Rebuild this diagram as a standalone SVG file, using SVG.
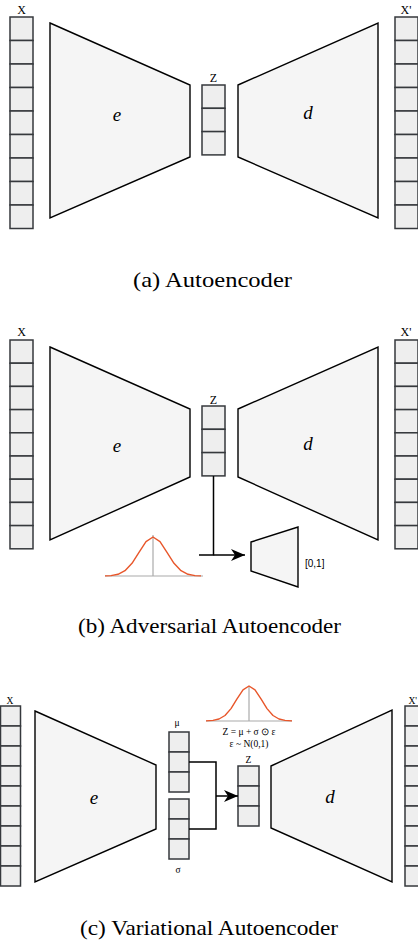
<svg xmlns="http://www.w3.org/2000/svg" width="418" height="950" viewBox="0 0 418 950">
<defs>
<style>
.cell{fill:#eeeeee;stroke:#36393d;stroke-width:1.5}
.trap{fill:#f5f5f5;stroke:#000;stroke-width:1.4;stroke-linejoin:miter}
.lbl{font-family:"Liberation Serif",serif;font-size:12px;fill:#000;text-anchor:middle}
.sm{font-family:"Liberation Serif",serif;font-size:9.5px;fill:#000;text-anchor:middle}
.it{font-family:"Liberation Serif",serif;font-style:italic;font-size:19px;fill:#000;text-anchor:middle}
.cap{font-family:"Liberation Serif",serif;font-size:21px;fill:#000}
.con{fill:none;stroke:#000;stroke-width:1.5}
.gauss{fill:none;stroke:#e8562a;stroke-width:1.4;stroke-linejoin:round}
.axis{fill:none;stroke:#aaaaaa;stroke-width:1.2}
.sans{font-family:"Liberation Sans",sans-serif;font-size:10px;fill:#000}
</style>
<marker id="arr" markerUnits="userSpaceOnUse" markerWidth="16" markerHeight="14" refX="14" refY="6" orient="auto">
<path d="M0,0 L14,6 L0,12 L4,6 Z" fill="#000"/>
</marker>
</defs>

<!-- (a) Autoencoder -->
<g id="a-x">
<text class="lbl" x="21.5" y="14">X</text>
<rect class="cell" x="10" y="17" width="23" height="23.5"/>
<rect class="cell" x="10" y="40.5" width="23" height="23.5"/>
<rect class="cell" x="10" y="64" width="23" height="23.5"/>
<rect class="cell" x="10" y="87.5" width="23" height="23.5"/>
<rect class="cell" x="10" y="111" width="23" height="23.5"/>
<rect class="cell" x="10" y="134.5" width="23" height="23.5"/>
<rect class="cell" x="10" y="158" width="23" height="23.5"/>
<rect class="cell" x="10" y="181.5" width="23" height="23.5"/>
<rect class="cell" x="10" y="205" width="23" height="23.5"/>
</g>
<g id="a-e">
<polygon class="trap" points="50,23 190,85 190,157 50,218"/>
<text class="it" x="117" y="121">e</text>
</g>
<g id="a-z">
<text class="lbl" x="213.5" y="82">Z</text>
<rect class="cell" x="202" y="85" width="23" height="23.3"/>
<rect class="cell" x="202" y="108.3" width="23" height="23.3"/>
<rect class="cell" x="202" y="131.6" width="23" height="23.3"/>
</g>
<g id="a-d">
<polygon class="trap" points="238,85 378,23 378,218 238,157"/>
<text class="it" x="308" y="119">d</text>
</g>
<g id="a-xp">
<text class="lbl" x="406" y="14">X'</text>
<rect class="cell" x="395" y="17" width="23" height="23.5"/>
<rect class="cell" x="395" y="40.5" width="23" height="23.5"/>
<rect class="cell" x="395" y="64" width="23" height="23.5"/>
<rect class="cell" x="395" y="87.5" width="23" height="23.5"/>
<rect class="cell" x="395" y="111" width="23" height="23.5"/>
<rect class="cell" x="395" y="134.5" width="23" height="23.5"/>
<rect class="cell" x="395" y="158" width="23" height="23.5"/>
<rect class="cell" x="395" y="181.5" width="23" height="23.5"/>
<rect class="cell" x="395" y="205" width="23" height="23.5"/>
</g>
<text class="cap" x="133" y="287" textLength="159" lengthAdjust="spacingAndGlyphs">(a)  Autoencoder</text>

<!-- (b) Adversarial Autoencoder -->
<g id="b-x">
<text class="lbl" x="21.5" y="336">X</text>
<rect class="cell" x="10" y="340" width="23" height="23.2"/>
<rect class="cell" x="10" y="363.2" width="23" height="23.2"/>
<rect class="cell" x="10" y="386.4" width="23" height="23.2"/>
<rect class="cell" x="10" y="409.6" width="23" height="23.2"/>
<rect class="cell" x="10" y="432.8" width="23" height="23.2"/>
<rect class="cell" x="10" y="456" width="23" height="23.2"/>
<rect class="cell" x="10" y="479.2" width="23" height="23.2"/>
<rect class="cell" x="10" y="502.4" width="23" height="23.2"/>
<rect class="cell" x="10" y="525.6" width="23" height="23.2"/>
</g>
<g id="b-e">
<polygon class="trap" points="50,347 190,409 190,477 50,540"/>
<text class="it" x="117" y="452">e</text>
</g>
<g id="b-z">
<text class="lbl" x="213.5" y="404">Z</text>
<rect class="cell" x="202" y="406" width="23" height="23.3"/>
<rect class="cell" x="202" y="429.3" width="23" height="23.3"/>
<rect class="cell" x="202" y="452.6" width="23" height="23.3"/>
</g>
<g id="b-d">
<polygon class="trap" points="238,409 378,347 378,540 238,477"/>
<text class="it" x="308" y="450">d</text>
</g>
<g id="b-xp">
<text class="lbl" x="406" y="336">X'</text>
<rect class="cell" x="395" y="340" width="23" height="23.2"/>
<rect class="cell" x="395" y="363.2" width="23" height="23.2"/>
<rect class="cell" x="395" y="386.4" width="23" height="23.2"/>
<rect class="cell" x="395" y="409.6" width="23" height="23.2"/>
<rect class="cell" x="395" y="432.8" width="23" height="23.2"/>
<rect class="cell" x="395" y="456" width="23" height="23.2"/>
<rect class="cell" x="395" y="479.2" width="23" height="23.2"/>
<rect class="cell" x="395" y="502.4" width="23" height="23.2"/>
<rect class="cell" x="395" y="525.6" width="23" height="23.2"/>
</g>
<g id="b-prior">
<line class="axis" x1="105" y1="576" x2="203" y2="576"/>
<line class="axis" x1="153" y1="535" x2="153" y2="576"/>
<polyline class="gauss" points="105,575.9 111,575.6 118,574.3 125,570.7 132,563.3 139,552.3 146,541.6 153,537 160,541.6 167,552.3 174,563.3 181,570.7 188,574.3 195,575.6 201,575.9"/>
</g>
<g id="b-disc">
<polygon class="trap" points="251,542 298,527 298,587 251,571"/>
<text class="sans" x="305" y="567">[0,1]</text>
</g>
<text class="cap" x="78" y="633" textLength="263" lengthAdjust="spacingAndGlyphs">(b)  Adversarial  Autoencoder</text>

<!-- (c) Variational Autoencoder -->
<g id="c-x">
<text class="sm" x="10" y="704">X</text>
<rect class="cell" x="0.5" y="706" width="20" height="20"/>
<rect class="cell" x="0.5" y="726" width="20" height="20"/>
<rect class="cell" x="0.5" y="746" width="20" height="20"/>
<rect class="cell" x="0.5" y="766" width="20" height="20"/>
<rect class="cell" x="0.5" y="786" width="20" height="20"/>
<rect class="cell" x="0.5" y="806" width="20" height="20"/>
<rect class="cell" x="0.5" y="826" width="20" height="20"/>
<rect class="cell" x="0.5" y="846" width="20" height="20"/>
<rect class="cell" x="0.5" y="866" width="20" height="20"/>
</g>
<g id="c-e">
<polygon class="trap" points="35,711 156,765 156,829 35,882"/>
<text class="it" x="94" y="804">e</text>
</g>
<g id="c-mu">
<text class="sm" x="177" y="726">μ</text>
<rect class="cell" x="169" y="732" width="20" height="20"/>
<rect class="cell" x="169" y="752" width="20" height="20"/>
<rect class="cell" x="169" y="772" width="20" height="20"/>
</g>
<g id="c-sigma">
<rect class="cell" x="169" y="799" width="20" height="20"/>
<rect class="cell" x="169" y="819" width="20" height="20"/>
<rect class="cell" x="169" y="839" width="20" height="20"/>
<text class="sm" x="178" y="873">σ</text>
</g>
<g id="c-prior">
<line class="axis" x1="206" y1="721" x2="292" y2="721"/>
<line class="axis" x1="249" y1="686" x2="249" y2="721"/>
<polyline class="gauss" points="206,720.9 213,720.4 219,719 225,715.5 231,708.6 237,698.9 243,689.8 249,686 255,689.8 261,698.9 267,708.6 273,715.5 279,719 285,720.4 292,720.9"/>
<text class="sm" x="249" y="735">Z = μ + σ ⊙ ε</text>
<text class="sm" x="249" y="747">ε ~ N(0,1)</text>
</g>
<g id="c-z">
<text class="sm" x="248.5" y="763">Z</text>
<rect class="cell" x="238" y="766" width="21" height="20"/>
<rect class="cell" x="238" y="786" width="21" height="20"/>
<rect class="cell" x="238" y="806" width="21" height="20"/>
</g>
<g id="c-d">
<polygon class="trap" points="271,766 392,710 392,882 271,828"/>
<text class="it" x="330" y="803">d</text>
</g>
<g id="c-xp">
<text class="sm" x="417" y="704" style="text-anchor:end">X'</text>
<rect class="cell" x="405" y="706" width="20" height="20"/>
<rect class="cell" x="405" y="726" width="20" height="20"/>
<rect class="cell" x="405" y="746" width="20" height="20"/>
<rect class="cell" x="405" y="766" width="20" height="20"/>
<rect class="cell" x="405" y="786" width="20" height="20"/>
<rect class="cell" x="405" y="806" width="20" height="20"/>
<rect class="cell" x="405" y="826" width="20" height="20"/>
<rect class="cell" x="405" y="846" width="20" height="20"/>
<rect class="cell" x="405" y="866" width="20" height="20"/>
</g>
<text class="cap" x="80" y="935" textLength="258" lengthAdjust="spacingAndGlyphs">(c)  Variational  Autoencoder</text>

<!-- connectors -->
<g id="connectors">
<polyline class="con" points="213.5,476 213.5,555 199,555"/>
<line class="con" x1="213.5" y1="555" x2="245" y2="555" marker-end="url(#arr)"/>
<polyline class="con" points="189,762 216,762 216,829 189,829"/>
<line class="con" x1="216" y1="796" x2="238" y2="796" marker-end="url(#arr)"/>
</g>
</svg>
